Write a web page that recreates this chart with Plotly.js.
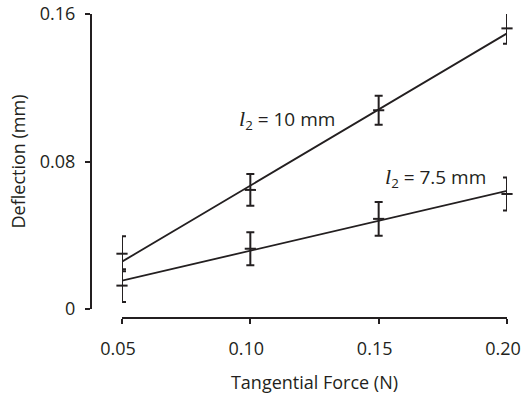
<!DOCTYPE html>
<html>
<head>
<meta charset="utf-8">
<script src="https://cdn.plot.ly/plotly-3.0.1.min.js"></script>
<style>
html,body{margin:0;padding:0;background:#fff;}
#chart{width:521px;height:394px;}
</style>
</head>
<body>
<div id="chart"></div>
<script>
// Data
const forces = [0.05, 0.10, 0.15, 0.20];
const defl10 = [0.0300, 0.0646, 0.1078, 0.1522];
const err10  = [0.0095, 0.0086, 0.0078, 0.0084];
const defl75 = [0.0127, 0.0327, 0.0489, 0.0624];
const err75  = [0.0089, 0.0089, 0.0092, 0.0089];
const fitX   = [0.05, 0.20];
const fit10  = [0.0257, 0.1495];
const fit75  = [0.0154, 0.0641];
const xTicks = [0.05, 0.10, 0.15, 0.20];
const xTickText = ['0.05', '0.10', '0.15', '0.20'];
const yTicks = [0, 0.08, 0.16];
const yTickText = ['0', '0.08', '0.16'];
const label10 = '<span style="font-family:\'Liberation Serif\';font-size:22px"><i>l</i></span><sub>2</sub> = 10 mm';
const label75 = '<span style="font-family:\'Liberation Serif\';font-size:22px"><i>l</i></span><sub>2</sub> = 7.5 mm';

const ink = '#231f20';
const font = 'Open Sans, sans-serif';

function pts(y, e) {
  return {
    x: forces, y: y, type: 'scatter', mode: 'markers', cliponaxis: false,
    marker: {symbol: 'line-ew', size: 8, color: ink, line: {color: ink, width: 2}},
    error_y: {type: 'data', array: e, visible: true, color: ink, thickness: 2, width: 4},
    hoverinfo: 'skip', showlegend: false
  };
}
function fit(y) {
  return {x: fitX, y: y, type: 'scatter', mode: 'lines', cliponaxis: false,
    line: {color: ink, width: 1.8}, hoverinfo: 'skip', showlegend: false};
}

const data = [fit(fit10), fit(fit75), pts(defl10, err10), pts(defl75, err75)];

const layout = {
  width: 521, height: 394,
  margin: {l: 91, r: 14, t: 13.5, b: 75.5, pad: 0},
  paper_bgcolor: '#fff', plot_bgcolor: '#fff',
  font: {family: font, size: 18, color: ink},
  showlegend: false,
  xaxis: {
    domain: [0.0745, 1], anchor: 'free', position: 0,
    range: [0.05, 0.20], tickvals: xTicks, ticktext: xTickText,
    showgrid: false, zeroline: false, showline: true, linecolor: ink, linewidth: 2,
    ticks: 'outside', ticklen: 5, tickwidth: 2, tickcolor: ink,
    tickfont: {family: font, size: 18, color: ink}, ticklabelstandoff: 9,
    ticklabelshift: -4, ticklabeloverflow: 'allow',
    title: {text: 'Tangential Force (N)', font: {family: font, size: 18, color: ink}, standoff: 17}
  },
  yaxis: {
    domain: [0.0295, 1], anchor: 'free', position: 0,
    range: [0, 0.16], tickvals: yTicks, ticktext: yTickText,
    showgrid: false, zeroline: false, showline: true, linecolor: ink, linewidth: 2,
    ticks: 'outside', ticklen: 5, tickwidth: 2, tickcolor: ink,
    tickfont: {family: font, size: 18, color: ink}, ticklabelstandoff: 6,
    title: {text: 'Deflection (mm)', font: {family: font, size: 18, color: ink}, standoff: 8}
  },
  annotations: [
    {text: label10, x: 0.0948, y: 0.1024, xref: 'x', yref: 'y', xanchor: 'left', yanchor: 'middle',
     showarrow: false, font: {family: font, size: 19, color: ink}},
    {text: label75, x: 0.1517, y: 0.0711, xref: 'x', yref: 'y', xanchor: 'left', yanchor: 'middle',
     showarrow: false, font: {family: font, size: 19, color: ink}}
  ]
};

Plotly.newPlot('chart', data, layout, {displayModeBar: false, staticPlot: true});
</script>
</body>
</html>
